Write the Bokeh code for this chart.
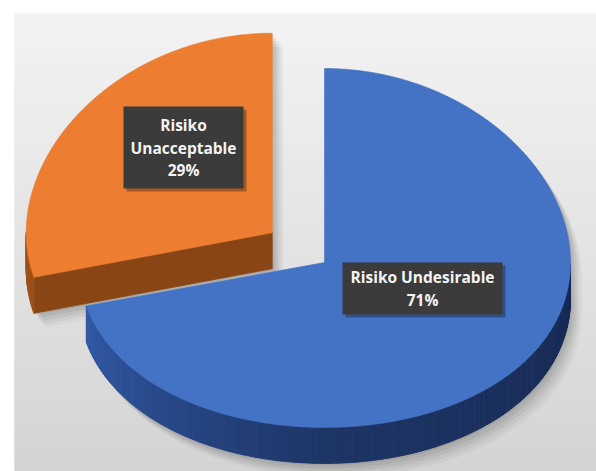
import numpy as np
from bokeh.plotting import figure
from bokeh.models import Range1d
from bokeh.core.properties import value
from bokeh.embed import file_html
from bokeh.resources import INLINE

# ---------------- data ----------------
categories = ["Risiko Undesirable", "Risiko Unacceptable"]
values = [71, 29]
explode = [0.0, 0.269]
label_wrap = [False, True]

# ---------------- style / layout ----------------
W, H = 596, 471
CX, CY = 324.0, 262.0        # pie centre (screen px)
RX, RY = 246.0, 178.3        # radii
K = -0.0808                  # perspective factor
DEPTH = 36.0                 # thickness of the 3D pie

top_colors = ["#4472C4", "#ED7D31"]
side_grad = [["#172a53", "#1d3566", "#3560b2"], ["#7e3f12", "#8c4716", "#a0521b"]]
cut_colors = ["#1d3566", "#8a4515"]
label_boxes = [(422, 262, 160, 52), (183, 106, 120, 82)]   # centre-x, top, width, height
LINE_H = 22.5

p = figure(width=W, height=H, x_range=Range1d(0, W), y_range=Range1d(H, 0),
           x_axis_type=None, y_axis_type=None, output_backend="svg",
           toolbar_location=None, min_border=0)
p.grid.visible = False
p.outline_line_color = None
p.background_fill_color = "white"
p.border_fill_color = "white"


def mix(c1, c2, t):
    a = np.array([int(c1[i:i + 2], 16) for i in (1, 3, 5)], float)
    b = np.array([int(c2[i:i + 2], 16) for i in (1, 3, 5)], float)
    c = a + (b - a) * t
    return "#%02x%02x%02x" % tuple(int(round(v)) for v in c)


# background panel with a soft vertical gradient
nb = 60
edges = np.linspace(13, H, nb + 1)
bcols = [mix("#f3f3f3", "#d4d4d4", i / (nb - 1)) for i in range(nb)]
p.quad(left=14, right=W, top=edges[:-1], bottom=edges[1:] + 0.5, fill_color=bcols,
       line_color=bcols, line_width=0.5)


def proj(X, Z):
    X = np.asarray(X, float)
    Z = np.asarray(Z, float)
    s = 1.0 / (1.0 - K * Z)
    return CX + RX * X, CY + RY * Z * s


def grad3(cs, t):
    if t < 0.5:
        return mix(cs[0], cs[1], t / 0.5)
    return mix(cs[1], cs[2], (t - 0.5) / 0.5)


total = float(sum(values))
fracs = [v / total for v in values]
starts = np.concatenate([[0.0], np.cumsum(fracs)[:-1]]) * 2 * np.pi
ends = np.cumsum(fracs) * 2 * np.pi

slices = []
for i, (a0, a1) in enumerate(zip(starts, ends)):
    am = 0.5 * (a0 + a1)
    ox, oz = explode[i] * np.sin(am), -explode[i] * np.cos(am)
    n = max(8, int(np.degrees(a1 - a0) * 2))
    th = np.linspace(a0, a1, n)
    Xs = np.concatenate([[ox], ox + np.sin(th)])
    Zs = np.concatenate([[oz], oz - np.cos(th)])
    sx, sy = proj(Xs, Zs)
    kinds = ["cut"] + ["arc"] * (n - 1) + ["cut"]
    thetas = [None] + list(0.5 * (th[:-1] + th[1:])) + [None]
    slices.append(dict(i=i, sx=sx, sy=sy, kinds=kinds, thetas=thetas, oz=oz))


def silhouette(sl, dx=0.0, dy=0.0):
    sx, sy = sl["sx"], sl["sy"]
    m = len(sx)
    px, py = [], []
    for j in range(m):
        x0, y0 = sx[j], sy[j]
        x1, y1 = sx[(j + 1) % m], sy[(j + 1) % m]
        d = DEPTH if (x1 - x0) < -1e-9 else 0.0
        px += [x0 + dx, x1 + dx]
        py += [y0 + d + dy, y1 + d + dy]
    return px, py


# drop shadows
for off, al in [(14, 0.035), (11, 0.045), (8, 0.055), (5, 0.06), (2, 0.06)]:
    xs, ys = [], []
    for sl in slices:
        px, py = silhouette(sl, off * 0.8, off)
        xs.append(px)
        ys.append(py)
    p.patches(xs, ys, fill_color="black", fill_alpha=al, line_color=None)

# slices, back to front
for sl in sorted(slices, key=lambda s: s["oz"]):
    i = sl["i"]
    sx, sy = sl["sx"], sl["sy"]
    m = len(sx)
    qx, qy, qc = [], [], []
    for j in range(m):
        x0, y0 = sx[j], sy[j]
        x1, y1 = sx[(j + 1) % m], sy[(j + 1) % m]
        if (x1 - x0) < -1e-9:
            if sl["kinds"][j] == "arc":
                t = (sl["thetas"][j] - np.pi / 2) / np.pi
                c = grad3(side_grad[i], float(np.clip(t, 0, 1)))
            else:
                c = cut_colors[i]
            qx.append([x0, x1, x1, x0])
            qy.append([y0, y1, y1 + DEPTH, y0 + DEPTH])
            qc.append(c)
    if qx:
        p.patches(qx, qy, fill_color=qc, line_color=qc, line_width=0.8)
    p.patch(list(sx), list(sy), fill_color=top_colors[i], line_color=top_colors[i],
            line_width=0.6)

# data labels
for i, (cxl, top, bw, bh) in enumerate(label_boxes):
    p.quad(left=cxl - bw / 2 + 3, right=cxl + bw / 2 + 3, top=top + 3, bottom=top + bh + 3,
           fill_color="black", fill_alpha=0.3, line_color=None)
    p.quad(left=cxl - bw / 2, right=cxl + bw / 2, top=top, bottom=top + bh,
           fill_color="#3b3b3b", line_color=None)
    name_lines = categories[i].split(" ") if label_wrap[i] else [categories[i]]
    lines = name_lines + ["%d%%" % round(values[i] / total * 100)]
    nl = len(lines)
    ymid = top + bh / 2
    ys = [ymid + (k - (nl - 1) / 2) * LINE_H for k in range(nl)]
    p.text(x=[cxl] * nl, y=ys, text=lines, text_align="center", text_baseline="middle",
           text_font=value("Open Sans"), text_font_style="bold", text_font_size="15.5px",
           text_color="#f4f4f4")

open("out.html", "w").write(file_html(p, INLINE))
